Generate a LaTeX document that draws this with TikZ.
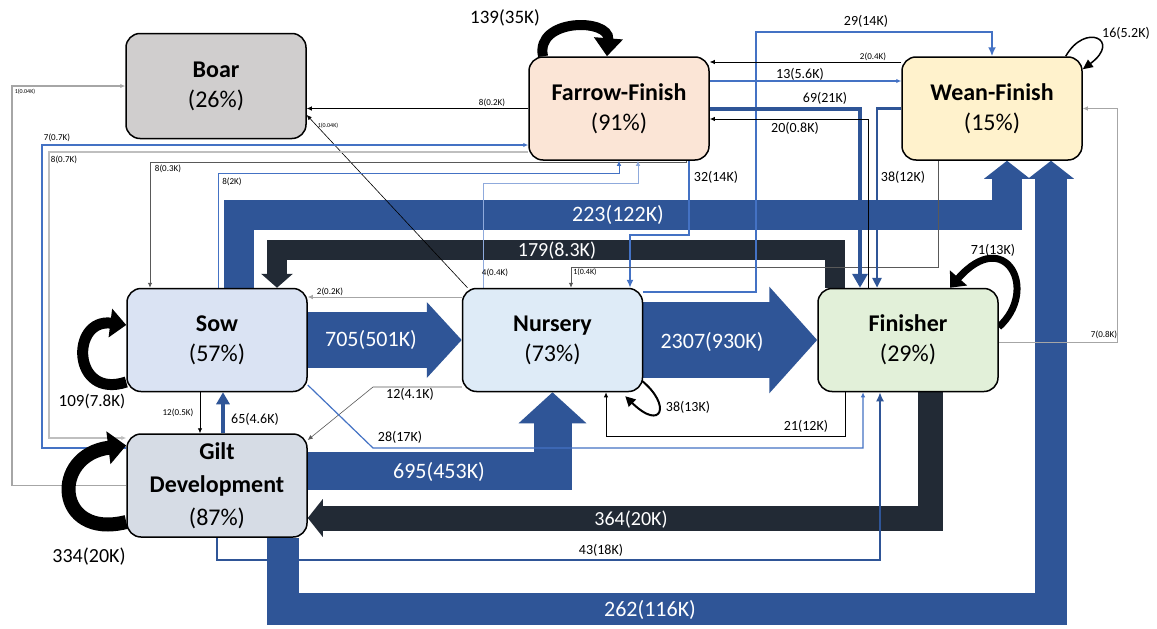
\documentclass[tikz,border=0pt]{standalone}
\usepackage{fontspec}
\setmainfont{Carlito}
\usetikzlibrary{arrows.meta,backgrounds}
\definecolor{boarcol}{HTML}{D0CECE}
\definecolor{ffcol}{HTML}{FBE5D6}
\definecolor{wfcol}{HTML}{FFF2CC}
\definecolor{sowcol}{HTML}{DAE3F3}
\definecolor{nurcol}{HTML}{DEEBF7}
\definecolor{fincol}{HTML}{E2F0D9}
\definecolor{giltcol}{HTML}{D6DCE5}
\definecolor{bandblue}{HTML}{2F5597}
\definecolor{banddark}{HTML}{222A35}
\definecolor{lineblue}{HTML}{4472C4}
\definecolor{paleblue}{HTML}{8FAADC}
\definecolor{gray1}{HTML}{A6A6A6}
\definecolor{gray2}{HTML}{BFBFBF}
\definecolor{gray3}{HTML}{595959}
\begin{document}
\begin{tikzpicture}[x=1pt, y=-1pt,
  stage/.style={draw, line width=1.5pt, rounded corners=14pt, minimum width=180pt, minimum height=103pt, inner sep=2pt, align=center, font=\fontsize{24}{30}\selectfont},
  bigflow/.style={draw=bandblue},
  darkflow/.style={draw=banddark},
  flowtxt/.style={text=white, inner sep=0pt, font=\fontsize{22}{22}\selectfont},
  looptxt/.style={inner sep=0pt, font=\fontsize{19}{19}\selectfont},
  midtxt/.style={inner sep=0pt, font=\fontsize{14}{14}\selectfont},
  smalltxt/.style={inner sep=0pt, font=\fontsize{9}{9}\selectfont},
  tinytxt/.style={inner sep=0pt, font=\fontsize{6}{6}\selectfont},
  thinline/.style={line width=0.8pt, -{Latex[length=5pt,width=4.5pt]}},
  selfloop/.style={draw=black}]
\useasboundingbox (0,0) rectangle (1157,629);
\node[stage, fill=boarcol, minimum height=105pt] (boar) at (216,86) {\textbf{Boar}\\(26\%)};
\node[stage, fill=ffcol] (ff) at (619,108.5) {\textbf{Farrow-Finish}\\(91\%)};
\node[stage, fill=wfcol] (wf) at (992,108.5) {\textbf{Wean-Finish}\\(15\%)};
\node[stage, fill=sowcol] (sow) at (217,340) {\textbf{Sow}\\(57\%)};
\node[stage, fill=nurcol] (nur) at (552.5,340) {\textbf{Nursery}\\(73\%)};
\node[stage, fill=fincol] (fin) at (908,340) {\textbf{Finisher}\\(29\%)};
\node[stage, fill=giltcol, font=\fontsize{24}{33}\selectfont] (gilt) at (217,485.5) {\textbf{Gilt}\\\textbf{Development}\\(87\%)};
\begin{scope}[on background layer]
\fill[white] (0,0) rectangle (1157,629);
% wide flows
\draw[bigflow, line width=56pt, -{Triangle[length=35pt,width=74pt]}] (sow.east) -- (nur.west);
\draw[bigflow, line width=76pt, -{Triangle[length=48pt,width=104pt]}] (nur.east) -- (fin.west);
\draw[bigflow, line width=30pt, -{Triangle[length=18pt,width=45pt]}] ([xshift=22pt]sow.north) |- (1007,215) -- ([xshift=15pt]wf.south);
\draw[bigflow, line width=32pt, -{Triangle[length=18pt,width=45pt]}] ([xshift=66pt]gilt.south) |- (1051,609) -- ([xshift=59pt]wf.south);
\draw[bigflow, line width=38pt, -{Triangle[length=31pt,width=66pt]}] ([yshift=14.5pt]gilt.east) -| (nur.south);
\draw[darkflow, line width=25pt, -{Triangle[length=15pt,width=37pt]}] ([xshift=22pt]fin.south) |- ([yshift=-32.5pt]gilt.east);
\draw[darkflow, line width=20pt, -{Triangle[length=14pt,width=31pt]}] ([xshift=-73pt]fin.north) |- (277,250) -- ([xshift=60pt]sow.north);
% thin flows
\draw[thinline] (ff.west) -- (ff.west -| boar.east);
\draw[thinline, line width=0.6pt] ([xshift=-85pt]nur.north) -- ([yshift=-29pt]boar.east);
\draw[thinline, draw=gray1, line width=1.2pt] (gilt.west) -| (12,86) -- (boar.west);
\draw[thinline, draw=lineblue, line width=1.4pt] ([yshift=37.5pt]gilt.west) -| (42,145) -- ([yshift=-36.5pt]ff.west);
\draw[thinline, draw=gray2, line width=1.4pt] ([yshift=-43.5pt]ff.west) -| (49,438) -- ([yshift=47.5pt]gilt.west);
\draw[thinline, draw=gray3] ([xshift=67pt]ff.south) |- (150,162) -- ([xshift=-67pt]sow.north);
\draw[thinline, draw=lineblue] ([xshift=1pt]sow.north) |- (619,173) -- (ff.south);
\draw[thinline, draw=paleblue] ([xshift=-69.5pt]nur.north) |- (638,183) -- ([xshift=19pt]ff.south);
\draw[thinline, draw=lineblue, line width=2pt, -{Latex[length=8pt,width=7pt]}] ([xshift=70pt]ff.south) -- (689,235) -| ([xshift=77.5pt]nur.north);
\draw[thinline, draw=gray3] ([xshift=-54pt]wf.south) -- (938,267) -| ([xshift=18.5pt]nur.north);
\draw[thinline, draw=gray1] ([yshift=43pt]nur.west) -- ([yshift=43pt]sow.east);
\draw[thinline, draw=lineblue, line width=2.5pt, -{Latex[length=9pt,width=8pt]}] ([yshift=48pt]nur.east) -| (756,32) -| (wf.north);
\draw[thinline] ([yshift=46.5pt]wf.west) -- ([yshift=46.5pt]ff.east);
\draw[thinline, draw=lineblue, line width=1.4pt] ([yshift=27.5pt]ff.east) -- ([yshift=27.5pt]wf.west);
\draw[thinline, draw=bandblue, line width=4pt, -{Triangle[length=14pt,width=15pt]}] (ff.east) -| ([xshift=-48pt]fin.north);
\draw[thinline, line width=1pt] ([xshift=-40pt]fin.north) |- ([yshift=-10.5pt]ff.east);
\draw[thinline, draw=bandblue, line width=2.5pt, -{Triangle[length=10pt,width=9pt]}] (wf.west) -| ([xshift=-31pt]fin.north);
\draw[thinline, draw=gray1] ([yshift=-2pt]fin.east) -| (1117,108.5) -- (wf.east);
\draw[thinline] ([xshift=-17pt]sow.south) -- ([xshift=-17pt]gilt.north);
\draw[thinline, draw=bandblue, line width=4pt, -{Triangle[length=12pt,width=13pt]}] ([xshift=6pt]gilt.north) -- ([xshift=6pt]sow.south);
\draw[thinline, draw=gray3, line width=0.6pt] ([yshift=-47pt]nur.west) -- (373,387) -- ([yshift=45.5pt]gilt.east);
\draw[thinline, draw=lineblue, line width=1.2pt] ([yshift=-45pt]sow.east) -- (373,448) -| ([xshift=-45pt]fin.south);
\draw[thinline, line width=1pt] ([xshift=-63pt]fin.south) -- (845,436) -| ([xshift=53.5pt]nur.south);
\draw[thinline, draw=bandblue, line width=2pt, -{Latex[length=9pt,width=8pt]}] (gilt.south) -- (217,560) -| ([xshift=-28pt]fin.south);
% self loops
\draw[selfloop, line width=10pt, -{Triangle[length=18pt,width=28pt]}] ([xshift=-76pt]ff.north) .. controls (535,18) and (610,18) .. ([xshift=-12pt]ff.north);
\draw[selfloop, line width=11pt, -{Triangle[length=16pt,width=28pt]}] ([yshift=-42pt]sow.west) .. controls (72,400) and (70,318) .. ([yshift=15pt]sow.west);
\draw[selfloop, line width=14pt, -{Triangle[length=18pt,width=32pt]}] ([yshift=-36.5pt]gilt.west) .. controls (55,540) and (50,455) .. ([yshift=40pt]gilt.west);
\draw[selfloop, line width=7pt, -{Triangle[length=13pt,width=22pt]}] ([yshift=13pt]fin.east) .. controls (1040,290) and (1005,225) .. ([xshift=42pt]fin.north);
\draw[selfloop, line width=2pt, -{Triangle[length=10pt,width=10pt]}] ([shift={(-2pt,12pt)}]nur.south east) .. controls (672,405) and (662,432) .. ([shift={(-18pt,-4pt)}]nur.south east);
\draw[selfloop, line width=1.5pt, -{Triangle[length=10pt,width=9pt]}] ([xshift=-17pt]wf.north east) .. controls (1085,22) and (1122,40) .. ([yshift=-13pt]wf.north east);
\end{scope}
\node[looptxt] (l139) at (505,18) {139(35K)};
\node[midtxt] (l16) at (1126,33) {16(5.2K)};
\node[midtxt] (l29) at (866,21) {29(14K)};
\node[smalltxt] (l2b) at (873,57) {2(0.4K)};
\node[midtxt] (l13) at (800,74) {13(5.6K)};
\node[midtxt] (l69) at (825,98) {69(21K)};
\node[midtxt] (l20) at (795,128) {20(0.8K)};
\node[smalltxt] (l8a) at (492,103) {8(0.2K)};
\node[tinytxt] (l1a) at (328,126) {1(0.04K)};
\node[tinytxt] (l1b) at (25,92) {1(0.04K)};
\node[smalltxt] (l7a) at (57,138) {7(0.7K)};
\node[smalltxt] (l8b) at (64,160) {8(0.7K)};
\node[smalltxt] (l8c) at (168,169) {8(0.3K)};
\node[smalltxt] (l8d) at (232,182) {8(2K)};
\node[midtxt] (l32) at (716,177) {32(14K)};
\node[midtxt] (l38a) at (903,177) {38(12K)};
\node[flowtxt] (l223) at (618,215) {223(122K)};
\node[flowtxt, font=\fontsize{20}{20}\selectfont] (l179) at (557,251) {179(8.3K)};
\node[smalltxt] (l4) at (495,273) {4(0.4K)};
\node[smalltxt, font=\fontsize{8}{8}\selectfont] (l1c) at (585,272) {1(0.4K)};
\node[smalltxt] (l2a) at (330,292) {2(0.2K)};
\node[midtxt] (l71) at (993,250) {71(13K)};
\node[flowtxt] (l705) at (371,340) {705(501K)};
\node[flowtxt] (l2307) at (712,342) {2307(930K)};
\node[smalltxt] (l7b) at (1104,335) {7(0.8K)};
\node[looptxt, font=\fontsize{17}{17}\selectfont] (l109) at (92,401) {109(7.8K)};
\node[midtxt] (l124) at (410,394) {12(4.1K)};
\node[midtxt] (l38b) at (688,407) {38(13K)};
\node[smalltxt] (l12) at (178,413) {12(0.5K)};
\node[midtxt] (l65) at (255,419) {65(4.6K)};
\node[midtxt] (l21) at (806,426) {21(12K)};
\node[midtxt] (l28) at (400,437) {28(17K)};
\node[flowtxt] (l695) at (439,472) {695(453K)};
\node[flowtxt, font=\fontsize{20}{20}\selectfont] (l364) at (631,520) {364(20K)};
\node[midtxt] (l43) at (601,550) {43(18K)};
\node[looptxt, font=\fontsize{20}{20}\selectfont] (l334) at (89,557) {334(20K)};
\node[flowtxt] (l262) at (650,610) {262(116K)};
\end{tikzpicture}
\end{document}
